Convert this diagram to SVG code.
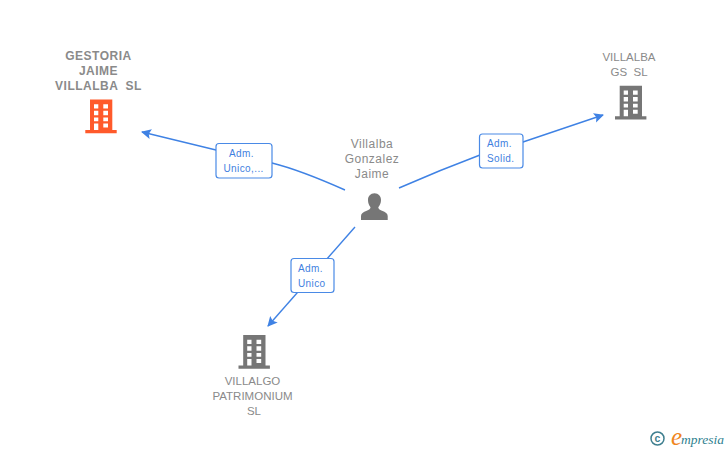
<svg xmlns="http://www.w3.org/2000/svg" width="728" height="450" viewBox="0 0 728 450">
<style>
text{font-family:"Liberation Sans",Arial,sans-serif;white-space:pre}
.n{font-size:11.500px;fill:#8a8a8a;text-anchor:middle}
.b{font-size:12px;font-weight:bold;letter-spacing:.5px}
.p{font-size:12px;fill:#8a8a8a;text-anchor:middle;letter-spacing:.5px}
.l{font-size:10px;fill:#3f7fe0;letter-spacing:.4px}
.c{fill:none;stroke:#3f82e4;stroke-width:1.4}
.box{fill:#fff;stroke:#4a8ae6;stroke-width:1.2}
</style>
<defs>
<path id="bld" fill-rule="evenodd" d="M4.700 0H27V30.500H31.400V33.800H0V30.500H4.700ZM8.700 4.700V9H13V4.700ZM18 4.700V9H22.700V4.700ZM8.700 11.300V15.700H13V11.300ZM18 11.300V15.700H22.700V11.300ZM8.700 18V21.700H13V18ZM18 18V21.700H22.700V18ZM8.700 24V30.500H13V24ZM18 24V28H22.700V24Z"/>
<marker id="ah" markerUnits="userSpaceOnUse" markerWidth="12" markerHeight="12" refX="9" refY="5" orient="auto"><path d="M0 0L10 5L0 10L2 5Z" fill="#3f82e4"/></marker>
</defs>
<g id="connectors">
<path class="c" marker-end="url(#ah)" d="M345 190Q300 170 272 163L216 150L142 132"/>
<path class="c" marker-end="url(#ah)" d="M399 188Q440 170 480 155L523 142L603 115"/>
<path class="c" marker-end="url(#ah)" d="M355 227L268 326"/>
</g>
<g id="edge-label-1"><rect class="box" x="216" y="143.500" width="56" height="34.500" rx="3"/><text class="l" x="229" y="157">Adm.</text><text class="l" x="223.500" y="172">Unico,...</text></g>
<g id="edge-label-2"><rect class="box" x="479.500" y="134" width="43.500" height="34" rx="3"/><text class="l" x="487" y="147">Adm.</text><text class="l" x="487" y="162">Solid.</text></g>
<g id="edge-label-3"><rect class="box" x="291" y="258.500" width="43" height="34" rx="3"/><text class="l" x="298" y="272">Adm.</text><text class="l" x="298" y="287">Unico</text></g>
<g id="node-gestoria"><text class="n b" x="98.500" y="60">GESTORIA</text><text class="n b" x="98.500" y="75">JAIME</text><text class="n b" x="98.500" y="90">VILLALBA  SL</text><use href="#bld" x="85.300" y="99.500" fill="#ff5a2b"/></g>
<g id="node-villalba-gs"><text class="n" x="629" y="61">VILLALBA</text><text class="n" x="629" y="76">GS  SL</text><use href="#bld" x="615" y="85.700" fill="#767676"/></g>
<g id="node-villalgo"><text class="n" x="252.500" y="385">VILLALGO</text><text class="n" x="252.500" y="400">PATRIMONIUM</text><text class="n" x="254" y="415">SL</text><use href="#bld" x="238.500" y="335" fill="#767676"/></g>
<g id="node-person"><text class="p" x="372" y="148">Villalba</text><text class="p" x="372" y="163">Gonzalez</text><text class="p" x="372" y="178">Jaime</text><path fill="#767676" d="M374.500 193.300C378.500 193.300 381 196.300 381 200C381 203 379.800 205.500 378.300 207.300C378.300 209 379.500 209.800 382 210.800C385.500 212.200 387.700 213.500 387.700 216V220H361V216C361 213.500 363.200 212.200 366.700 210.800C369.200 209.800 370.500 209 370.500 207.300C369 205.500 368 203 368 200C368 196.300 370.500 193.300 374.500 193.300Z"/></g>
<g id="logo"><circle cx="657.500" cy="438.500" r="6.500" fill="none" stroke="#3f7f8f" stroke-width="1.500"/><text x="657.500" y="442" font-size="10.500" font-weight="bold" fill="#3f7f8f" text-anchor="middle">c</text><text x="671" y="445" font-size="25" font-style="italic" fill="#f0861e" style="font-family:'Liberation Serif',serif">e</text><text x="681" y="444" font-size="13.500" font-style="italic" fill="#2f7f8f" style="font-family:'Liberation Serif',serif">mpresia</text></g>
</svg>
